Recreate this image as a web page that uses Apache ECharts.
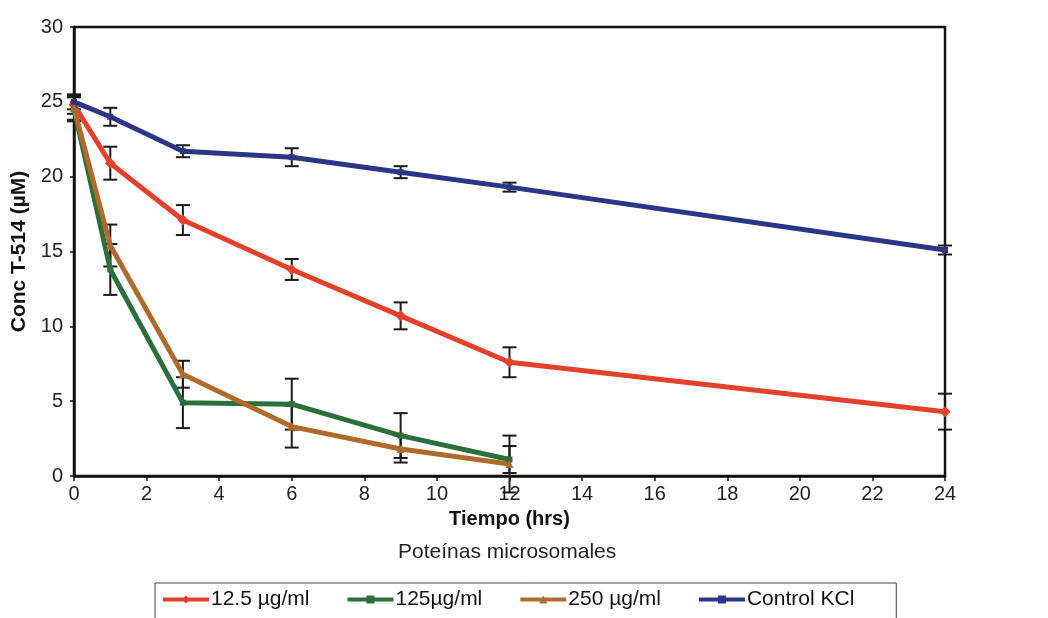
<!DOCTYPE html>
<html><head><meta charset="utf-8">
<script src="https://cdn.jsdelivr.net/npm/echarts@6/dist/echarts.min.js"></script>
<style>html,body{margin:0;padding:0;background:#fff}#c{width:1048px;height:618px}</style>
</head><body><div id="c"></div>
<script>
const hours = [0, 1, 3, 6, 9, 12, 24];
const seriesNames = ['12.5 \u00b5g/ml', '125\u00b5g/ml', '250 \u00b5g/ml', 'Control KCl'];
const xTicks = [0,2,4,6,8,10,12,14,16,18,20,22,24];
const yTicks = [0,5,10,15,20,25,30];

const red125 = [24.8, 20.9, 17.1, 13.8, 10.7, 7.6, 4.3];
const redErr = [0.6, 1.1, 1.0, 0.7, 0.9, 1.0, 1.2];
const green125 = [24.5, 13.8, 4.9, 4.8, 2.7, 1.1, null];
const greenErr = [0.8, 1.7, 1.7, 1.7, 1.5, 0.9, null];
const orange250 = [24.6, 15.4, 6.8, 3.3, 1.8, 0.8, null];
const orangeErr = [0.8, 1.4, 0.9, 1.4, 0.9, 1.9, null];
const blueKCl = [25.0, 24.0, 21.7, 21.3, 20.3, 19.3, 15.1];
const blueErr = [0.5, 0.6, 0.4, 0.6, 0.4, 0.3, 0.3];

const colors = ['#e2412b', '#2c6e3c', '#b06a2c', '#2d3587'];
const symbols = ['diamond', 'rect', 'triangle', 'rect'];
const symSizes = [11, 6, 8, 6];
const FONT = 'Liberation Sans, Arial, sans-serif';

function pairs(vals){ const o=[]; hours.forEach((h,i)=>{ if(vals[i]!=null) o.push([h, vals[i]]); }); return o; }
function errs(vals, e){ const o=[]; hours.forEach((h,i)=>{ if(vals[i]!=null) o.push([h, vals[i]-e[i], vals[i]+e[i]]); }); return o; }

const all = [[red125, redErr],[green125, greenErr],[orange250, orangeErr],[blueKCl, blueErr]];
const series = [];
all.forEach((d, k) => {
  series.push({
    type: 'custom', name: seriesNames[k] + '_err', silent: true, z: 3,
    data: errs(d[0], d[1]), encode: {x: 0, y: [1, 2]},
    renderItem: function(params, api){
      const x = api.value(0);
      const lo = api.coord([x, api.value(1)]);
      const hi = api.coord([x, api.value(2)]);
      const w = 7;
      const st = {stroke: '#1a1a1a', lineWidth: 2};
      return {type: 'group', children: [
        {type:'line', shape:{x1:lo[0], y1:lo[1], x2:hi[0], y2:hi[1]}, style: st},
        {type:'line', shape:{x1:lo[0]-w, y1:lo[1], x2:lo[0]+w, y2:lo[1]}, style: st},
        {type:'line', shape:{x1:hi[0]-w, y1:hi[1], x2:hi[0]+w, y2:hi[1]}, style: st}
      ]};
    }
  });
});
all.forEach((d, k) => {
  series.push({
    type: 'line', name: seriesNames[k], data: pairs(d[0]), z: k === 3 ? 6 : 5,
    symbol: symbols[k], symbolSize: symSizes[k],
    lineStyle: {color: colors[k], width: 5},
    itemStyle: {color: colors[k]}
  });
});

const chart = echarts.init(document.getElementById('c'));
chart.setOption({
  animation: false,
  backgroundColor: '#fff',
  textStyle: {fontFamily: FONT},
  grid: {left: 74, right: 103, top: 27, bottom: 142, show: true, borderColor: '#111', borderWidth: 2.5, backgroundColor: 'transparent'},
  xAxis: {
    type: 'value', min: 0, max: 24, interval: 2,
    name: 'Tiempo (hrs)', nameLocation: 'middle', nameGap: 33,
    nameTextStyle: {fontSize: 20, fontWeight: 'bold', color: '#111', fontFamily: FONT},
    axisLine: {show: true, lineStyle: {color: '#111', width: 2.5}},
    axisTick: {show: true, inside: false, length: 5, lineStyle: {color: '#111', width: 1.5}},
    axisLabel: {fontSize: 20, color: '#222', margin: 8, fontFamily: FONT},
    splitLine: {show: false}
  },
  yAxis: {
    type: 'value', min: 0, max: 30, interval: 5,
    name: 'Conc T-514 (\u00b5M)', nameLocation: 'middle', nameGap: 42, nameRotate: 90,
    nameTextStyle: {fontSize: 21, fontWeight: 'bold', color: '#111', fontFamily: FONT},
    axisLine: {show: true, lineStyle: {color: '#111', width: 2.5}},
    axisTick: {show: true, inside: false, length: 4, lineStyle: {color: '#111', width: 1.5}},
    axisLabel: {fontSize: 20, color: '#222', margin: 11, fontFamily: FONT},
    splitLine: {show: false}
  },
  legend: {
    data: seriesNames, left: 155, top: 583,
    borderColor: '#444', borderWidth: 1, padding: [6, 42, 12, 6], itemGap: 36,
    itemWidth: 46, itemHeight: 10,
    lineStyle: {width: 4},
    textStyle: {fontSize: 21, color: '#111', padding: [0, 0, 0, -3], fontFamily: FONT}
  },
  graphic: [{
    type: 'text', left: 398, top: 542,
    style: {text: 'Pote\u00ednas microsomales', fontSize: 21, fill: '#222', fontFamily: FONT}
  }],
  series: series
});
</script></body></html>
